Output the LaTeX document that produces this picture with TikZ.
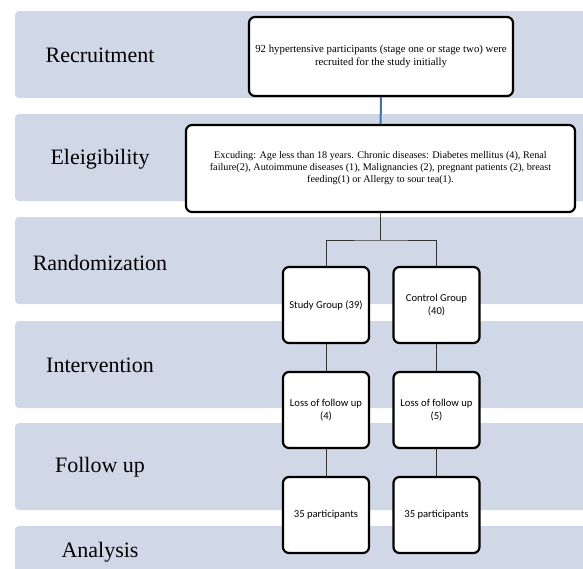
\documentclass[tikz,border=0pt]{standalone}
\usepackage{fontspec}
\setmainfont{Liberation Serif}
\newfontfamily\groupfont{Carlito}
\definecolor{bandfill}{RGB}{208,215,230}
\definecolor{linkblue}{RGB}{68,114,170}

\begin{document}
\begin{tikzpicture}[x=1pt, y=-1pt,
    band/.style={fill=bandfill, rounded corners=4pt},
    stagelabel/.style={font=\fontsize{22}{24}\selectfont},
    textbox/.style={draw, fill=white, line width=2.2pt, rounded corners=6pt, align=center,
        inner sep=2pt},
    groupbox/.style={draw, fill=white, line width=2.2pt, rounded corners=6pt, align=center,
        minimum width=86pt, minimum height=76pt, inner sep=1pt,
        font=\groupfont\fontsize{10.6}{12.5}\selectfont},
    link/.style={draw=black!80, line width=0.8pt}]
    \useasboundingbox (0,0) rectangle (583,568);

    % Stage bands
    \begin{scope}
        \clip (0,0) rectangle (583,568);
        \foreach \t in {11,114,217,321,423,526}
            \fill[band] (15,\t) rectangle (600,\t+87);
    \end{scope}

    % Stage names
    \node[stagelabel] (recruitment) at (100,55) {Recruitment};
    \node[stagelabel] (eligibility) at (100,159) {Eleigibility};
    \node[stagelabel] (randomization) at (100,263) {Randomization};
    \node[stagelabel] (intervention) at (100,365) {Intervention};
    \node[stagelabel] (followup) at (100,467) {Follow up};
    \node[stagelabel] (analysis) at (100,552) {Analysis};

    % Recruited and excluded
    \node[textbox, minimum width=264pt, minimum height=79pt,
        font=\fontsize{10.8}{12.5}\selectfont] (recruited) at (381,56.5)
        {92 hypertensive participants (stage one or stage two) were\\recruited for the study initially};
    \node[textbox, minimum width=389pt, minimum height=87pt,
        font=\fontsize{10.2}{12}\selectfont] (excluded) at (380.5,168.5)
        {Excuding: Age less than 18 years. Chronic diseases: Diabetes mellitus (4), Renal\\
         failure(2), Autoimmune diseases (1), Malignancies (2), pregnant patients (2), breast\\
         feeding(1) or Allergy to sour tea(1).};

    % Groups
    \node[groupbox] (study) at (326,305) {Study Group (39)};
    \node[groupbox] (control) at (436.5,305) {Control Group\\(40)};
    \node[groupbox] (studyloss) at (326,410) {Loss of follow up\\(4)};
    \node[groupbox] (controlloss) at (436.5,410) {Loss of follow up\\(5)};
    \node[groupbox] (studyend) at (326,515) {35 participants};
    \node[groupbox] (controlend) at (436.5,515) {35 participants};

    % Connectors
    \coordinate (split) at (380.5,240);
    \draw[linkblue, line width=2pt] (recruited) -- (excluded);
    \draw[link] (excluded) -- (split);
    \draw[link] (study) |- (split) -| (control);
    \draw[link] (study) -- (studyloss);
    \draw[link] (control) -- (controlloss);
    \draw[link] (studyloss) -- (studyend);
    \draw[link] (controlloss) -- (controlend);
\end{tikzpicture}
\end{document}
